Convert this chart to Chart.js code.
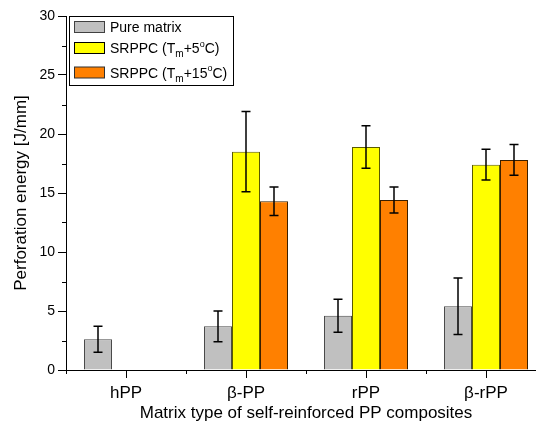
<!DOCTYPE html>
<html>
<head>
<meta charset="utf-8">
<script src="https://cdn.jsdelivr.net/npm/chart.js@4/dist/chart.umd.min.js"></script>
<style>
html,body{margin:0;padding:0;overflow:hidden;background:#fff;width:536px;height:425px;}
canvas{display:block;}
</style>
</head>
<body>
<canvas id="c" width="560" height="425" style="width:560px;height:425px"></canvas>
<script>
const categories = ['hPP', 'β-PP', 'rPP', 'β-rPP'];
const pureMatrix = [2.6, 3.7, 4.6, 5.4];
const pureMatrixErr = [1.1, 1.3, 1.4, 2.4];
const srppc5 = [null, 18.5, 18.9, 17.4];
const srppc5Err = [null, 3.4, 1.8, 1.3];
const srppc15 = [null, 14.3, 14.4, 17.8];
const srppc15Err = [null, 1.2, 1.1, 1.3];
const yTicks = [0, 5, 10, 15, 20, 25, 30];

const FONT = "'Liberation Sans', Arial, Helvetica, sans-serif";
const errors = [pureMatrixErr, srppc5Err, srppc15Err];

const errorBars = {
  id: 'errorBars',
  afterDatasetsDraw(chart) {
    const ctx = chart.ctx;
    const ys = chart.scales.y;
    ctx.save();
    ctx.strokeStyle = '#000';
    ctx.lineWidth = 1.5;
    chart.data.datasets.forEach((ds, i) => {
      const meta = chart.getDatasetMeta(i);
      meta.data.forEach((bar, j) => {
        const v = ds.data[j];
        const e = errors[i][j];
        if (v == null || e == null) return;
        const x = bar.x;
        const yt = ys.getPixelForValue(v + e);
        const yb = ys.getPixelForValue(v - e);
        ctx.beginPath();
        ctx.moveTo(x, yt); ctx.lineTo(x, yb);
        ctx.moveTo(x - 4.5, yt); ctx.lineTo(x + 4.5, yt);
        ctx.moveTo(x - 4.5, yb); ctx.lineTo(x + 4.5, yb);
        ctx.stroke();
      });
    });
    ctx.restore();
  }
};

const minorTicks = {
  id: 'minorTicks',
  afterDraw(chart) {
    const ctx = chart.ctx;
    const xs = chart.scales.x, ys = chart.scales.y;
    const a = chart.chartArea;
    ctx.save();
    ctx.strokeStyle = '#000';
    ctx.lineWidth = 1;
    ctx.beginPath();
    for (let k = 0; k < yTicks.length - 1; k++) {
      const y = Math.round(ys.getPixelForValue((yTicks[k] + yTicks[k + 1]) / 2)) + 0.5;
      ctx.moveTo(a.left - 4, y); ctx.lineTo(a.left, y);
    }
    for (let k = 0; k <= categories.length; k++) {
      const x = Math.round(xs.getPixelForValue(k - 0.5)) + 0.5;
      ctx.moveTo(x, a.bottom); ctx.lineTo(x, a.bottom + 4);
    }
    ctx.stroke();
    ctx.restore();
  }
};

const customLegend = {
  id: 'customLegend',
  afterDraw(chart) {
    const ctx = chart.ctx;
    ctx.save();
    ctx.fillStyle = '#fff';
    ctx.strokeStyle = '#000';
    ctx.lineWidth = 1;
    ctx.fillRect(69.5, 16.5, 164, 69);
    ctx.strokeRect(69.5, 16.5, 164, 69);
    const items = [
      {fill: '#c0c0c0', border: '#404040', parts: [['Pure matrix', 0, 14]], base: 32},
      {fill: '#ffff00', border: '#000', parts: [['SRPPC (T', 0, 14], ['m', 4, 10], ['+5', 0, 14], ['o', -6.5, 9], ['C)', 0, 14]], base: 53},
      {fill: '#ff8000', border: '#303030', parts: [['SRPPC (T', 0, 14], ['m', 4, 10], ['+15', 0, 14], ['o', -6.5, 9], ['C)', 0, 14]], base: 77.5}
    ];
    items.forEach(it => {
      ctx.fillStyle = it.fill;
      ctx.strokeStyle = it.border;
      ctx.fillRect(74.5, it.base - 10.5, 30, 11);
      ctx.strokeRect(74.5, it.base - 10.5, 30, 11);
      let x = 110;
      ctx.fillStyle = '#000';
      ctx.textBaseline = 'alphabetic';
      ctx.textAlign = 'left';
      it.parts.forEach(p => {
        ctx.font = p[2] + 'px ' + FONT;
        ctx.fillText(p[0], x, it.base + p[1]);
        x += ctx.measureText(p[0]).width;
      });
    });
    ctx.restore();
  }
};

new Chart(document.getElementById('c'), {
  type: 'bar',
  data: {
    labels: categories,
    datasets: [
      {label: 'Pure matrix', data: pureMatrix, backgroundColor: '#c0c0c0', borderColor: '#4a4a4a', borderWidth: 1},
      {label: 'SRPPC (Tm+5°C)', data: srppc5, backgroundColor: '#ffff00', borderColor: '#5a5a00', borderWidth: 1},
      {label: 'SRPPC (Tm+15°C)', data: srppc15, backgroundColor: '#ff8000', borderColor: '#3a2000', borderWidth: 1}
    ]
  },
  options: {
    responsive: false,
    animation: false,
    events: [],
    layout: {padding: {top: 16, right: 14, left: 0, bottom: 0}},
    plugins: {legend: {display: false}, tooltip: {enabled: false}, title: {display: false}},
    datasets: {bar: {categoryPercentage: 0.7, barPercentage: 1.0}},
    scales: {
      x: {
        type: 'category',
        offset: true,
        grid: {display: true, drawOnChartArea: false, drawTicks: true, tickLength: 8, offset: false, tickColor: '#000', tickWidth: 1},
        border: {display: true, color: '#000', width: 1},
        ticks: {color: '#000', font: {family: FONT, size: 17}, padding: 5, maxRotation: 0},
        title: {display: true, text: 'Matrix type of self-reinforced PP composites', color: '#000', font: {family: FONT, size: 17}, padding: {top: 0, bottom: 1}},
        afterFit(s) { s.height = 55; }
      },
      y: {
        min: 0, max: 30,
        afterBuildTicks(s) { s.ticks = yTicks.map(v => ({value: v})); },
        grid: {display: true, drawOnChartArea: false, drawTicks: true, tickLength: 8, tickColor: '#000', tickWidth: 1},
        border: {display: true, color: '#000', width: 1},
        ticks: {color: '#000', font: {family: FONT, size: 14}, padding: 3},
        title: {display: true, text: 'Perforation energy [J/mm]', color: '#000', font: {family: FONT, size: 17}, padding: {top: 11, bottom: 0}},
        afterFit(s) { s.width = 66; }
      }
    }
  },
  plugins: [errorBars, minorTicks, customLegend]
});
</script>
</body>
</html>
